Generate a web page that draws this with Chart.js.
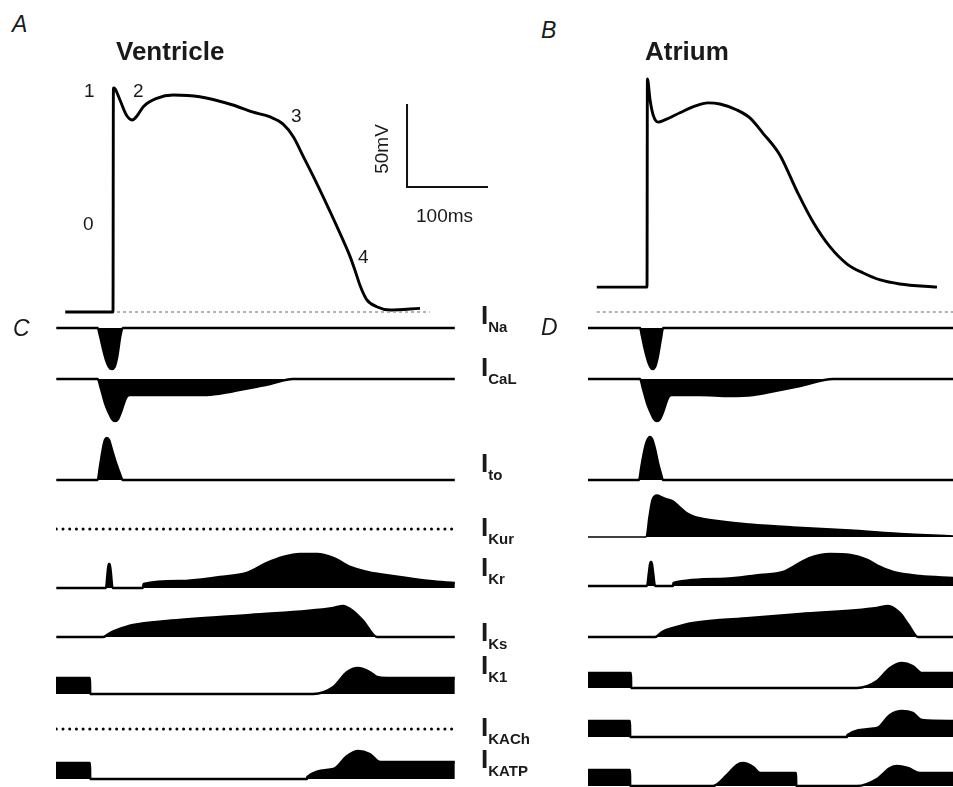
<!DOCTYPE html>
<html>
<head>
<meta charset="utf-8">
<script src="https://cdn.jsdelivr.net/npm/chart.js@4.4.1/dist/chart.umd.min.js"></script>
<style>
  body { margin: 0; width: 953px; height: 787px; overflow: hidden; background: #fff; position: relative;
         font-family: "Liberation Sans", Arial, sans-serif; }
  canvas { position: absolute; }
  .txt { position: absolute; line-height: 1; white-space: nowrap; color: #1a1a1a; }
  .sub { font-size: 15px; position: relative; top: 8px; margin-left: 0; }
</style>
</head>
<body>
<script>
// action potentials: [time ms, membrane potential mV]
const ventricleAP = [[-59, -85], [0, -85], [0.5, 50], [2.5, 49.5], [8.6, 42.7], [16.5, 33.7], [23.8, 30.7],
  [29.6, 33.1], [37.4, 38.7], [54, 43.7], [74.4, 45.7], [107, 44.7], [148, 39.7], [172, 35.5], [194, 32.5],
  [210, 28.2], [222.6, 20.6], [235, 8.6], [251.5, -7.5], [268, -24.5], [284.3, -42], [292.6, -51.5],
  [298.8, -60], [305, -69], [313.2, -77.5], [325.6, -81.8], [342, -83.8], [379, -82.8]];
const atriumAP = [[-62, -70], [0, -70], [0.5, 55.4], [3.7, 43], [7.4, 34], [13.6, 29.4], [22, 30.7], [40.7, 35],
  [59, 39], [75, 41], [90, 40.3], [111, 36.7], [127, 31.9], [143, 22.8], [164, 9.6], [185, -12.1], [205, -30.8],
  [226, -45.8], [247, -56.1], [267, -61.5], [288, -65.7], [312, -68.1], [358, -70]];
const restLineV = [[5, -85], [391, -85]];
const restLineA = [[-62, -85], [378, -85]];
const scaleBarT = [363, 463];      // 100 ms
const scaleBarV = [40.3, -9.7];    // 50 mV

// ionic currents, ventricle (panel C): [time ms, current, arbitrary units]
const vINa = [[-70, 0], [-18.9, 0], [-16, -8], [-12, -22], [-8.6, -32], [-4.9, -39], [-1.6, -41], [1.9, -39],
  [4.9, -30], [6.5, -22], [8.6, -10], [12, 0], [422, 0]];
const vICaL = [[-70, 0], [-18.9, 0], [-14.8, -10], [-9.9, -24], [-4.9, -34], [-1.2, -40], [2.5, -42], [6.2, -40],
  [9.9, -33], [13.6, -24], [16.7, -18], [21, -16], [46, -16], [83, -16], [116, -16], [144, -13], [169, -9],
  [194, -5], [222, 0], [422, 0]];
const vIto = [[-70, 0], [-18.9, 0], [-16, 14], [-12.3, 32], [-9.9, 40], [-7.8, 42], [-4.9, 40], [-1.2, 30],
  [3.7, 17], [8.6, 6], [12, 0], [422, 0]];
const vIKur = [[-70, 0], [422, 0]];
const vIKr = [[-70, 0], [-8.6, 0], [-6.8, 14], [-5.3, 24], [-4.1, 24], [-2.5, 14], [-0.6, 0], [37, 0], [37.7, 4],
  [83, 7], [132, 11], [165, 15], [190, 25], [210, 31], [231, 34], [252, 34], [272, 30], [293, 21], [314, 16],
  [354, 11], [391, 7], [422, 5]];
const vIKs = [[-70, 0], [-12.3, 0], [-3.7, 4], [4.9, 7], [24.7, 12], [66.7, 16], [169, 22], [272, 29], [284, 31],
  [296, 26], [309, 16], [326, 0], [422, 0]];
const vIK1 = [[-70.4, 16], [-28.4, 16], [-28.2, 0], [247, 0], [272, 7], [289, 22], [302.5, 26], [317, 22],
  [326, 17], [338, 16], [422, 16]];
const vIKACh = [[-70, 0], [422, 0]];
const vIKATP = [[-70.4, 16], [-28.4, 16], [-28.2, 0], [239.5, 0], [240, 2], [272, 10], [289, 23], [302.5, 28],
  [317, 25], [330, 17], [422, 17]];

// ionic currents, atrium (panel D)
const aINa = [[-73, 0], [-8.6, 0], [-6.2, -8], [-2.5, -22], [1.2, -33], [4.3, -39], [6.8, -41], [9.9, -39],
  [13, -30], [14.8, -22], [17.3, -10], [19.8, 0], [378, 0]];
const aICaL = [[-73, 0], [-8.6, 0], [-4.9, -10], [0, -24], [4.9, -34], [8.6, -40], [12.3, -42], [16, -40],
  [19.8, -33], [23.5, -24], [26.5, -18], [31, -16], [65, -16], [102, -17], [131, -16], [158, -12], [189, -7],
  [230, 0], [378, 0]];
const aIto = [[-73, 0], [-9.9, 0], [-6.8, 14], [-3.1, 30], [0, 39], [3.7, 43], [6.2, 41], [9.9, 31], [13.6, 17],
  [17.3, 6], [19.8, 0], [378, 0]];
const aIKur = [[-73, 0], [-1.2, 0], [2.5, 20], [6.2, 37], [12.3, 42], [18.5, 40], [24.7, 38], [32, 36],
  [40.7, 30], [49.4, 24], [57, 21], [81.5, 17], [127, 13], [180, 10], [251, 7], [304, 4], [378, 1]];
const aIKr = [[-73, 0], [0, 0], [2.5, 14], [4.3, 24], [5.6, 24], [7.4, 14], [9.9, 0], [32, 0], [32.7, 3],
  [90, 7], [139.5, 11], [168, 14], [180, 19], [201, 28], [226, 32], [251, 31], [272, 26], [288, 19],
  [304, 14], [337, 10], [378, 8]];
const aIKs = [[-73, 0], [9.9, 0], [18.5, 5], [32, 9], [57, 14], [127, 19], [189, 23], [284, 29], [297.5, 31],
  [312, 24], [323, 12], [334.6, 0], [378, 0]];
const aIK1 = [[-72.8, 15], [-19.8, 15], [-19.6, 0], [259, 0], [284, 7], [300, 20], [315, 25], [328, 22],
  [339.5, 15], [378, 15]];
const aIKACh = [[-72.8, 16], [-21, 16], [-20.8, 0], [247, 0], [247.5, 2], [284, 9], [300, 22], [315, 26],
  [328, 24], [339.5, 17], [378, 16]];
const aIKATP = [[-72.8, 16], [-21, 16], [-20.8, 0], [81.5, 0], [98.8, 11], [111, 21], [118.5, 23], [131, 19],
  [139.5, 13], [184, 13], [184.2, 0], [259, 0], [284, 7], [300, 18], [308.6, 20], [322, 18], [337, 13], [378, 13]];

const currentNames = ['Na', 'CaL', 'to', 'Kur', 'Kr', 'Ks', 'K1', 'KACh', 'KATP'];

// layout (page px)
const PX_PER_MS = 0.81;  // 100 ms = 81 px
const PX_PER_MV = 1.66;  // 50 mV = 83 px
const colV = { x0: 113, left: 56, right: 455 };
const colA = { x0: 647, left: 588, right: 953 };
const restPx = 312;      // -85 mV

const pts = arr => arr.map(p => ({ x: p[0], y: p[1] }));

function addCanvas(left, top, w, h) {
    const c = document.createElement('canvas');
    c.width = w; c.height = h;
    c.style.left = left + 'px';
    c.style.top = top + 'px';
    document.body.appendChild(c);
    return c;
}

function plot(canvas, xMin, xMax, yMin, yMax, datasets) {
    return new Chart(canvas, {
        type: 'line',
        data: { datasets: datasets },
        options: {
            responsive: false,
            animation: false,
            events: [],
            layout: { padding: 0 },
            plugins: { legend: { display: false }, tooltip: { enabled: false } },
            elements: { point: { radius: 0 } },
            scales: {
                x: { type: 'linear', display: false, min: xMin, max: xMax },
                y: { display: false, min: yMin, max: yMax }
            }
        }
    });
}

// AP panels
function apPanel(col, width, ap, rest, withBar) {
    const top = 63, h = 266;
    const cv = addCanvas(col.left, top, width, h);
    const ds = [
        { data: pts(rest), borderColor: '#9a9a9a', borderWidth: 1.5, borderDash: [3, 3], fill: false },
        { data: pts(ap), borderColor: '#000', borderWidth: 2.9, fill: false, cubicInterpolationMode: 'monotone' }
    ];
    if (withBar) {
        ds.push({ data: [{ x: scaleBarT[0], y: scaleBarV[0] }, { x: scaleBarT[0], y: scaleBarV[1] },
                         { x: scaleBarT[1], y: scaleBarV[1] }],
                  borderColor: '#111', borderWidth: 2, fill: false, tension: 0 });
    }
    plot(cv, (col.left - col.x0) / PX_PER_MS, (col.left + width - col.x0) / PX_PER_MS,
         -85 - (top + h - restPx) / PX_PER_MV, -85 + (restPx - top) / PX_PER_MV, ds);
}
apPanel(colV, 440, ventricleAP, restLineV, true);
apPanel(colA, 365, atriumAP, restLineA, false);

// current traces
function trace(col, basePx, data, dotted, lw) {
    const w = col.right - col.left;
    const cv = addCanvas(col.left, basePx - 50, w, 100);
    plot(cv, (col.left - col.x0) / PX_PER_MS, (col.right - col.x0) / PX_PER_MS, -50, 50, [{
        data: pts(data),
        borderColor: '#000',
        backgroundColor: '#000',
        borderWidth: dotted ? 3 : (lw || 2.5),
        borderDash: dotted ? [0, 6.7] : [],
        borderCapStyle: dotted ? 'round' : 'butt',
        fill: dotted ? false : 'origin',
        cubicInterpolationMode: 'monotone'
    }]);
}
const vBase = [328, 379, 480, 529, 588, 637, 694, 729, 779];
const aBase = [328, 379, 480, 537, 586, 637, 688, 737, 786];
[vINa, vICaL, vIto, vIKur, vIKr, vIKs, vIK1, vIKACh, vIKATP].forEach((d, i) =>
    trace(colV, vBase[i], d, i === 3 || i === 7));
[aINa, aICaL, aIto, aIKur, aIKr, aIKs, aIK1, aIKACh, aIKATP].forEach((d, i) =>
    trace(colA, aBase[i], d, false, i === 3 ? 1.6 : 2.5));

// text
function text(str, x, base, size, css) {
    const d = document.createElement('div');
    d.className = 'txt';
    d.style.cssText = 'left:' + x + 'px;top:' + (base - 0.8465 * size).toFixed(1) + 'px;font-size:' + size + 'px;' + (css || '');
    d.innerHTML = str;
    document.body.appendChild(d);
    return d;
}
text('A', 12, 32, 23, 'font-style:italic');
text('B', 541, 38, 23, 'font-style:italic');
text('C', 13, 336, 23, 'font-style:italic');
text('D', 541, 335, 23, 'font-style:italic');
text('Ventricle', 116, 60, 26, 'font-weight:bold');
text('Atrium', 645, 60, 26, 'font-weight:bold');
text('1', 84, 97, 19);
text('2', 133, 97, 19);
text('3', 291, 122, 19);
text('0', 83, 230, 19);
text('4', 358, 263, 19);
text('100ms', 416, 222, 19);
const mv = text('50mV', 381, 149, 19);
mv.style.top = '149px';
mv.style.transform = 'translate(-50%,-50%) rotate(-90deg)';

const labBase = [324, 376, 472, 536, 576, 641, 674, 736, 768];
currentNames.forEach((n, i) => text('I<span class="sub">' + n + '</span>', 481, labBase[i], 26, 'font-weight:bold'));
</script>
</body>
</html>
